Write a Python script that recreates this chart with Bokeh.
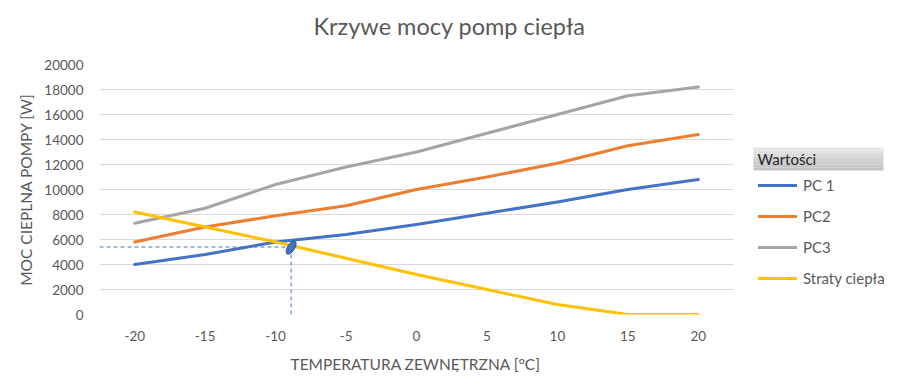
import math
from bokeh.plotting import figure
from bokeh.models import Range1d, FixedTicker, Legend, LegendItem, Label, BoxAnnotation, Title
from bokeh.embed import file_html
from bokeh.resources import INLINE

# ---- data ----
temps = [-20, -15, -10, -5, 0, 5, 10, 15, 20]
pc1 = [4000, 4800, 5800, 6400, 7200, 8100, 9000, 10000, 10800]
pc2 = [5800, 7000, 7900, 8700, 10000, 11000, 12100, 13500, 14400]
pc3 = [7300, 8500, 10400, 11800, 13000, 14500, 16000, 17500, 18200]
losses = [8200, 7000, 5800, 4500, 3200, 2000, 800, 0, 0]
series_names = ["PC 1", "PC2", "PC3", "Straty ciepła"]
y_ticks = [0, 2000, 4000, 6000, 8000, 10000, 12000, 14000, 16000, 18000, 20000]
op_temp = -8.9
op_power = 5400

title_text = "Krzywe mocy pomp ciepła"
x_label = "TEMPERATURA ZEWNĘTRZNA [°C]"
y_label = "MOC CIEPLNA POMPY [W]"
legend_title = "Wartości"

colors = ["#4472C4", "#ED7D31", "#A5A5A5", "#FFC000"]
FONT = "Lato"
TXT = "#595959"

# layout (pixels)
W, H = 884, 372
left_b, top_b, bottom_b = 99, 64, 57
frame_w = W - left_b
data_w = 634                       # width of the plotting area proper
x0, x1 = -22.5, 22.5
x_end = x0 + frame_w * (x1 - x0) / data_w

p = figure(width=W, height=H, output_backend="svg", toolbar_location=None,
           x_range=Range1d(x0, x_end), y_range=Range1d(0, 20000),
           min_border_left=left_b, min_border_right=0, min_border_top=top_b, min_border_bottom=bottom_b)
p.outline_line_color = None
p.background_fill_color = "white"
p.border_fill_color = "white"
p.title.text = ""

def spacer(standoff):
    return Title(text=" ", text_font_size="1px", standoff=standoff)

# chart title (spacer keeps it above the plotting area)
p.add_layout(spacer(22), "above")
p.add_layout(Title(text=title_text, align="left", offset=214, text_font=FONT, text_font_size="23.5px",
                   text_font_style="normal", text_color=TXT, standoff=0), "above")

p.xgrid.grid_line_color = None
p.ygrid.grid_line_color = "#D9D9D9"
p.ygrid.grid_line_width = 1

p.xaxis.ticker = FixedTicker(ticks=temps)
p.yaxis.ticker = FixedTicker(ticks=y_ticks)
p.xaxis.major_label_overrides = {t: str(t) for t in temps}
for ax in (p.xaxis[0], p.yaxis[0]):
    ax.axis_line_color = None
    ax.major_tick_line_color = None
    ax.minor_tick_line_color = None
    ax.major_tick_out = 0
    ax.major_tick_in = 0
    ax.major_label_text_font = FONT
    ax.major_label_text_font_size = "13.5px"
    ax.major_label_text_color = TXT
    ax.axis_label_text_font = FONT
    ax.axis_label_text_font_size = "15.5px"
    ax.axis_label_text_font_style = "normal"
    ax.axis_label_text_color = TXT
p.yaxis.axis_label = y_label
p.xaxis.major_label_standoff = 16
p.yaxis.major_label_standoff = 16
p.yaxis.axis_label_standoff = 6

# x axis title, centred under the plotting area
p.add_layout(spacer(6), "below")
p.add_layout(Title(text=x_label, align="left", offset=191, text_font=FONT, text_font_size="15.5px",
                   text_font_style="normal", text_color=TXT, standoff=0), "below")

# operating point guide lines
p.line(x=[x0, op_temp], y=[op_power, op_power], line_color="#4472C4", line_width=1, line_dash="4 3")
p.line(x=[op_temp, op_temp], y=[0, op_power], line_color="#4472C4", line_width=1, line_dash="4 3")

renderers = []
for vals, c in zip([pc1, pc2, pc3, losses], colors):
    r = p.line(x=temps, y=vals, line_color=c, line_width=3, line_join="round", line_cap="round")
    renderers.append(r)

p.ellipse(x=[op_temp], y=[op_power - 50], width=15, height=7, width_units="screen", height_units="screen",
          angle=math.radians(58), fill_color="#4472C4", line_color="#2F528F", line_width=1)

# white area to the right of the plotting area (legend region)
p.add_layout(BoxAnnotation(left=x1, left_units="data", fill_color="white", fill_alpha=1,
                           line_color=None, level="annotation"))

# legend title box with gradient
grad = ["#E6E6E6", "#E0E0E0", "#DBDBDB", "#D6D6D6", "#D1D1D1", "#CCCCCC", "#C7C7C7", "#C3C3C3"]
top, bottom = 167, 144
h = (top - bottom) / len(grad)
for i, g in enumerate(grad):
    p.add_layout(BoxAnnotation(left=654, right=784, top=top - i * h, bottom=top - (i + 1) * h,
                               left_units="screen", right_units="screen", top_units="screen", bottom_units="screen",
                               fill_color=g, fill_alpha=1, line_color=None, level="annotation"))
p.add_layout(Label(x=658, y=155.5, x_units="screen", y_units="screen", text=legend_title,
                   text_font=FONT, text_font_size="15px", text_color="#262626",
                   text_baseline="middle", text_align="left"))

# legend
legend = Legend(items=[LegendItem(label=n, renderers=[r]) for n, r in zip(series_names, renderers)],
                location=(659, 26), orientation="vertical",
                glyph_width=39, glyph_height=20, label_height=20, spacing=11, padding=0, margin=0,
                label_standoff=6, label_text_font=FONT, label_text_font_size="15px",
                label_text_color=TXT, border_line_color=None, background_fill_alpha=0)
p.add_layout(legend, "center")

open("out.html", "w").write(file_html(p, INLINE))
